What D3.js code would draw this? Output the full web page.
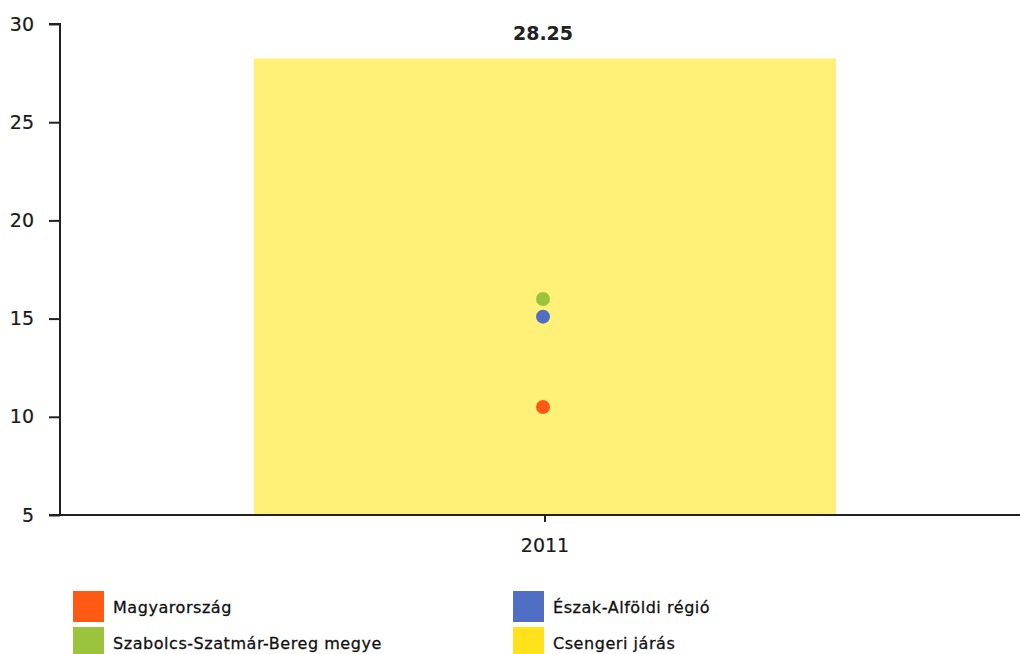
<!DOCTYPE html>
<html>
<head>
<meta charset="utf-8">
<script src="https://cdn.jsdelivr.net/npm/d3@7"></script>
<style>
  body { margin: 0; background: #fff; }
  svg text { font-family: "DejaVu Sans", Verdana, sans-serif; }
  .axis path, .axis line { stroke: #222; stroke-width: 2; }
  .axis text { fill: #1a1a1a; font-size: 19px; stroke: #1a1a1a; stroke-width: 0.2px; }
  .legend-label { font-size: 16px; letter-spacing: 0.55px; fill: #111; stroke: #111; stroke-width: 0.3px; }
  .bar-label { font-size: 19px; font-weight: bold; fill: #222; }
</style>
</head>
<body>
<svg id="chart" width="1020" height="654"></svg>
<script>
// data
var years = ["2011"]
var barName = "Csengeri járás"
var barValues = [28.25]
var pointNames = ["Magyarország", "Szabolcs-Szatmár-Bereg megye", "Észak-Alföldi régió"]
var pointValues = [10.5, 16.0, 15.1]
var yTicks = [5, 10, 15, 20, 25, 30]

var colors = {
	"Magyarország": "#ff5a14",
	"Szabolcs-Szatmár-Bereg megye": "#9bc33c",
	"Észak-Alföldi régió": "#4f6ec4",
	"Csengeri járás": "#ffe21a"
}

var svg = d3.select("#chart")

var x = d3.scaleBand()
	.domain(years)
	.range([60, 1030])
	.paddingInner(0.4)
	.paddingOuter(0.2)

var y = d3.scaleLinear()
	.domain([5, 30])
	.range([515, 24])

// bar
svg.append("g").selectAll("rect")
	.data(barValues)
	.enter().append("rect")
	.attr("x", function(d, i) { return x(years[i]) })
	.attr("width", x.bandwidth())
	.attr("y", function(d) { return y(d) })
	.attr("height", function(d) { return y(5) - y(d) })
	.attr("fill", "#fff178")

svg.append("g").selectAll("text")
	.data(barValues)
	.enter().append("text")
	.attr("class", "bar-label")
	.attr("x", function(d, i) { return x(years[i]) + x.bandwidth() / 2 - 2 })
	.attr("y", function(d) { return y(d) - 18 })
	.attr("text-anchor", "middle")
	.text(function(d) { return d.toFixed(2) })

// axes
var yAxis = svg.append("g")
	.attr("class", "axis")
	.attr("transform", "translate(60,0)")
	.call(d3.axisLeft(y).tickValues(yTicks).tickSize(11).tickPadding(15))
yAxis.attr("font-family", null).attr("font-size", null)
yAxis.select(".domain").attr("d", "M-11," + y(30) + "H0V" + y(5) + "H-11")

var xAxis = svg.append("g")
	.attr("class", "axis")
	.attr("transform", "translate(0," + y(5) + ")")
	.call(d3.axisBottom(x).tickSize(7).tickPadding(17))
xAxis.attr("font-family", null).attr("font-size", null)
xAxis.select(".domain").attr("d", "M60,0H1020")

// points
var cx = x(years[0]) + x.bandwidth() / 2
svg.append("g").selectAll("circle")
	.data(pointValues)
	.enter().append("circle")
	.attr("cx", cx - 2)
	.attr("cy", function(d) { return y(d) })
	.attr("r", 7)
	.attr("fill", function(d, i) { return colors[pointNames[i]] })

// legend
var legendItems = [
	{name: "Magyarország", x: 73, y: 591},
	{name: "Észak-Alföldi régió", x: 513, y: 591},
	{name: "Szabolcs-Szatmár-Bereg megye", x: 73, y: 627},
	{name: "Csengeri járás", x: 513, y: 627}
]
var legend = svg.append("g").selectAll("g")
	.data(legendItems)
	.enter().append("g")
	.attr("transform", function(d) { return "translate(" + d.x + "," + d.y + ")" })
legend.append("rect")
	.attr("width", 31)
	.attr("height", 31)
	.attr("fill", function(d) { return colors[d.name] })
legend.append("text")
	.attr("class", "legend-label")
	.attr("x", 40)
	.attr("y", 22)
	.text(function(d) { return d.name })
</script>
</body>
</html>
